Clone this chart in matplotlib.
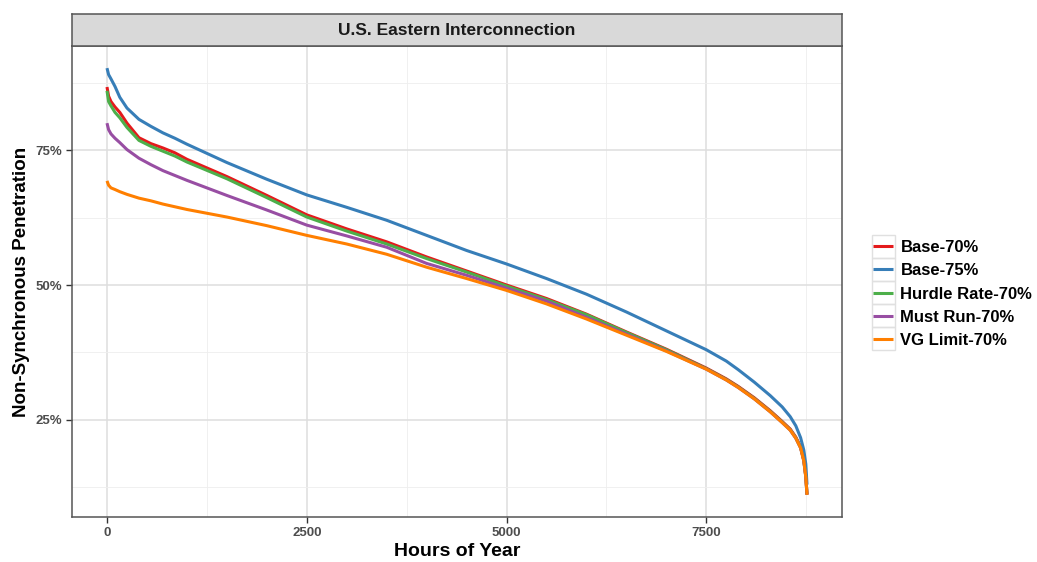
import matplotlib
matplotlib.use('Agg')
import matplotlib.pyplot as plt
from matplotlib import rcParams
from matplotlib.patches import Rectangle
from matplotlib.ticker import FuncFormatter

config = {
    "font.family": ['Liberation Sans', 'DejaVu Sans'],
    "font.weight": 'bold',
    "font.size": 10,
}
rcParams.update(config)

# hours of year (sorted duration curve)
hours = [0, 20, 50, 100, 160, 250, 400, 550, 700, 850, 1000, 1500, 2000, 2500,
         3000, 3500, 4000, 4500, 5000, 5500, 6000, 6500, 7000, 7500, 7750, 7900,
         8100, 8300, 8450, 8550, 8620, 8680, 8720, 8745, 8760]

# non-synchronous penetration, %
base_70 = [86.7, 85.0, 84.0, 83.0, 82.0, 80.0, 77.3, 76.2, 75.4, 74.5, 73.3,
           70.1, 66.6, 63.0, 60.4, 58.0, 55.2, 52.6, 50.0, 47.5, 44.6, 41.3,
           38.1, 34.6, 32.6, 31.2, 29.1, 26.7, 24.7, 23.3, 21.8, 20.0, 17.6,
           14.6, 11.2]
base_75 = [90.2, 89.0, 88.2, 86.8, 84.8, 82.8, 80.7, 79.4, 78.2, 77.2, 76.1,
           72.7, 69.6, 66.7, 64.4, 62.0, 59.2, 56.4, 53.9, 51.2, 48.3, 45.0,
           41.5, 38.0, 35.9, 34.3, 32.0, 29.5, 27.4, 25.6, 23.9, 21.7, 19.4,
           16.8, 13.0]
hurdle_70 = [86.0, 84.0, 83.2, 82.0, 81.0, 79.2, 76.8, 75.7, 74.8, 73.9, 72.8,
             69.7, 66.2, 62.6, 60.0, 57.6, 54.9, 52.4, 49.8, 47.3, 44.5, 41.2,
             38.0, 34.5, 32.5, 31.1, 29.0, 26.6, 24.6, 23.2, 21.7, 19.9, 17.5,
             14.5, 11.2]
must_run_70 = [80.0, 78.8, 78.0, 77.2, 76.4, 75.1, 73.5, 72.3, 71.2, 70.3, 69.4,
               66.6, 63.9, 61.1, 59.1, 57.0, 54.0, 51.8, 49.4, 47.0, 44.0, 40.9,
               37.8, 34.4, 32.4, 31.0, 28.9, 26.5, 24.5, 23.1, 21.6, 19.8, 17.4,
               14.4, 11.1]
vg_limit_70 = [69.3, 68.5, 68.0, 67.7, 67.3, 66.8, 66.1, 65.6, 65.0, 64.5, 64.0,
               62.6, 61.0, 59.2, 57.6, 55.7, 53.3, 51.2, 49.0, 46.5, 43.7, 40.7,
               37.7, 34.4, 32.4, 31.0, 28.9, 26.5, 24.5, 23.1, 21.6, 19.8, 17.4,
               14.4, 11.1]

labels = ['Base-70%', 'Base-75%', 'Hurdle Rate-70%', 'Must Run-70%', 'VG Limit-70%']
series = [base_70, base_75, hurdle_70, must_run_70, vg_limit_70]
colors = ['#E41A1C', '#377EB8', '#4DAF4A', '#984EA3', '#FF7F00']

W, H = 1037, 562
fig = plt.figure(figsize=(W / 100, H / 100), dpi=100)
ax = fig.add_axes([72 / W, 1 - 517 / H, (842 - 72) / W, (517 - 46) / H])

for lab, ys, c in zip(labels, series, colors):
    ax.plot(hours, [v / 100 for v in ys], color=c, lw=2.2, label=lab,
            solid_capstyle='butt')

ax.set_xlim(-438, 9198)
ax.set_ylim(0.07, 0.943)
ax.set_xticks([0, 2500, 5000, 7500])
ax.set_xticks([1250, 3750, 6250, 8750], minor=True)
ax.set_yticks([0.25, 0.5, 0.75])
ax.set_yticks([0.125, 0.375, 0.625, 0.875], minor=True)
ax.yaxis.set_major_formatter(FuncFormatter(lambda v, p: '%d%%' % round(v * 100)))
ax.grid(which='major', color='#DEDEDE', lw=1.1)
ax.grid(which='minor', color='#EEEEEE', lw=0.6)
ax.set_axisbelow(True)
for s in ax.spines.values():
    s.set_color('#555555')
    s.set_linewidth(1.1)
ax.tick_params(which='major', length=4, width=1.0, color='#333333',
               labelcolor='#4D4D4D', labelsize=9.5, pad=3)
ax.tick_params(which='minor', length=0)
for t in ax.get_xticklabels() + ax.get_yticklabels():
    t.set_fontweight('bold')

ax.set_xlabel('Hours of Year', fontsize=14, fontweight='bold', labelpad=3)
ax.set_ylabel('Non-Synchronous Penetration', fontsize=13.5, fontweight='bold', labelpad=4)

# facet strip
strip = fig.add_axes([72 / W, 1 - 46 / H, (842 - 72) / W, 32 / H])
strip.set_facecolor('#D9D9D9')
strip.set_xticks([])
strip.set_yticks([])
for s in strip.spines.values():
    s.set_color('#555555')
    s.set_linewidth(1.1)
strip.text(0.5, 0.47, 'U.S. Eastern Interconnection', ha='center', va='center',
           fontsize=12.5, fontweight='bold', color='#1A1A1A', transform=strip.transAxes)

# legend
leg = fig.legend(loc='upper left', bbox_to_anchor=(868 / W, 1 - 235 / H),
                 frameon=False, fontsize=12, handlelength=1.2, handletextpad=0.45,
                 labelspacing=0.5, borderaxespad=0, borderpad=0.3)
for t in leg.get_texts():
    t.set_fontweight('bold')
for i in range(len(labels)):
    fig.patches.append(Rectangle((872 / W, 1 - (235 + 23 * (i + 1)) / H), 23 / W, 23 / H,
                                 transform=fig.transFigure, facecolor='none',
                                 edgecolor='#E0E0E0', lw=1.0))

fig.savefig('out.png', dpi=100)
